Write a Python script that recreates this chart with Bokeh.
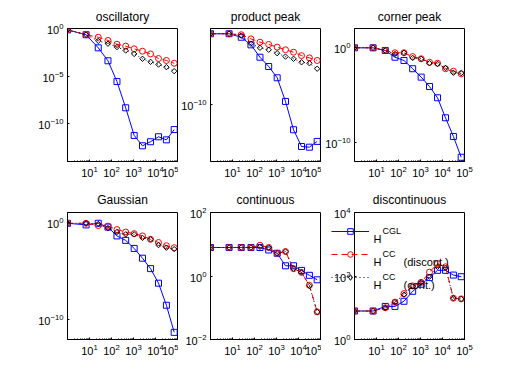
from bokeh.plotting import figure
from bokeh.layouts import column, row
from bokeh.models import Range1d, FixedTicker, Label, Legend, LegendItem
from bokeh.embed import file_html
from bokeh.resources import INLINE

# number of grid points (x values shared by all series)
n_points = [1, 7, 25, 69, 177, 441, 1073, 2561, 5953, 13697, 31265, 70785]
x_ticks = [10, 100, 1000, 10000, 100000]
x_minor = [k * 10 ** d for d in range(0, 5) for k in range(2, 10)]

titles = ["oscillatory", "product peak", "corner peak",
          "Gaussian", "continuous", "discontinuous"]

# errors: H^CGL
cgl_oscillatory = [0.72, 0.22, 9.3e-3, 4.0e-4, 2.6e-6, 4.5e-9, 5.5e-12, 4.5e-13, 1.2e-12, 4.0e-12, 1.9e-12, 2.3e-11]
cgl_product = [2.8e-3, 2.8e-3, 1.2e-3, 1.9e-4, 9.5e-6, 1.0e-6, 6.5e-8, 2.1e-10, 2.2e-13, 3.8e-15, 3.2e-15, 1.3e-14]
cgl_corner = [0.93, 0.93, 0.48, 9.5e-2, 4.3e-2, 5.8e-3, 7.6e-4, 7.8e-5, 5.1e-6, 4.0e-8, 4.3e-10, 2.8e-12]
cgl_gaussian = [0.79, 0.54, 0.79, 0.32, 4.0e-2, 1.4e-2, 2.1e-3, 2.1e-4, 1.8e-5, 5.8e-7, 3.2e-9, 5.4e-12]
cgl_continuous = [7.9, 7.9, 7.9, 7.9, 7.9, 6.6, 5.2, 2.1, 2.1, 1.5, 1.05, 0.76]
cgl_discontinuous = [7.9, 7.9, 11, 11, 16, 33, 55, 89, 151, 151, 107, 95]

# errors: H^CC (discont.)
ccd_oscillatory = [0.72, 0.22, 0.12, 5.5e-2, 2.2e-2, 1.4e-2, 7.2e-3, 4.1e-3, 2.1e-3, 6.9e-4, 4.3e-4, 2.2e-4]
ccd_product = [2.8e-3, 2.8e-3, 2.2e-3, 8.1e-4, 3.6e-4, 2.1e-4, 1.1e-4, 5.8e-5, 3.2e-5, 1.4e-5, 8.1e-6, 4.3e-6]
ccd_corner = [0.93, 0.93, 0.48, 0.28, 0.28, 0.11, 6.5e-2, 2.8e-2, 2.2e-2, 5.8e-3, 3.2e-3, 1.7e-3]
ccd_gaussian = [0.79, 0.79, 0.46, 0.40, 0.18, 0.10, 6.8e-2, 4.0e-2, 1.8e-2, 8.5e-3, 4.0e-3, 2.5e-3]
ccd_continuous = [7.9, 7.9, 7.9, 7.9, 9.3, 7.9, 5.2, 5.9, 1.7, 1.3, 0.51, 0.074]
ccd_discontinuous = [7.9, 7.9, 10, 15, 28, 49, 63, 132, 245, 195, 20, 19]

# errors: H^CC (cont.)
ccc_oscillatory = [0.72, 0.22, 5.0e-2, 2.5e-2, 1.1e-2, 4.8e-3, 2.1e-3, 6.5e-4, 3.1e-4, 1.6e-4, 8.5e-5, 3.2e-5]
ccc_product = [2.8e-3, 2.8e-3, 1.8e-3, 2.5e-4, 9.3e-5, 5.8e-5, 2.5e-5, 1.1e-5, 6.5e-6, 2.8e-6, 2.2e-6, 5.8e-7]
ccc_corner = [0.93, 0.93, 0.48, 0.21, 0.28, 8.1e-2, 6.5e-2, 2.2e-2, 1.9e-2, 6.8e-3, 2.2e-3, 2.0e-3]
ccc_gaussian = [0.79, 0.79, 0.68, 0.25, 0.10, 5.8e-2, 5.8e-2, 2.5e-2, 1.8e-2, 4.6e-3, 2.5e-3, 1.8e-3]
ccc_continuous = [7.9, 7.9, 7.9, 7.9, 8.3, 7.9, 5.2, 5.9, 1.7, 1.3, 0.49, 0.074]
ccc_discontinuous = [7.9, 7.9, 10, 15, 26, 47, 63, 95, 195, 182, 20, 19]

y_limits = [(1e-14, 1), (1e-16, 1e-2), (1e-12, 1e2), (1e-12, 10), (1e-2, 1e2), (1, 1e4)]
y_ticks = [[1e-10, 1e-5, 1], [1e-10], [1e-10, 1], [1e-10, 1], [1e-2, 1, 1e2], [1, 1e2, 1e4]]

legend_base = ["H", "H", "H"]
legend_sup = ["CGL", "CC", "CC"]
legend_tail = ["", "(discont.)", "(cont.)"]

cgl = [cgl_oscillatory, cgl_product, cgl_corner, cgl_gaussian, cgl_continuous, cgl_discontinuous]
ccd = [ccd_oscillatory, ccd_product, ccd_corner, ccd_gaussian, ccd_continuous, ccd_discontinuous]
ccc = [ccc_oscillatory, ccc_product, ccc_corner, ccc_gaussian, ccc_continuous, ccc_discontinuous]

FONT = "Liberation Sans"
BLUE, RED, BLACK = "#0000ff", "#ff0000", "black"
col_w = [178, 143, 153]
col_l = [67, 32, 33]
col_r = [1, 1, 10]
row_h = [185, 182]
row_t = [28, 27]
row_b = [24, 28]
title_standoff = [9, 11]

STYLES = [
    dict(color=BLUE, dash="solid", marker="square", size=6, angle=0.0),
    dict(color=RED, dash="6 4", marker="circle", size=6, angle=0.0),
    dict(color=BLACK, dash="1 3", marker="square", size=3.8, angle=0.785398),
]
LEGEND_STYLES = [STYLES[0], STYLES[1], dict(STYLES[2], marker="diamond", angle=0.0)]


def add_series(p, xs, ys, st):
    ln = p.line(xs, ys, line_color=st["color"], line_width=1, line_dash=st["dash"])
    mk = p.scatter(xs, ys, marker=st["marker"], size=st["size"], angle=st["angle"],
                   line_color=st["color"], fill_color=None)
    return ln, mk


figs = []
for i in range(6):
    r, c = divmod(i, 3)
    p = figure(width=col_w[c], height=row_h[r], x_axis_type="log", y_axis_type="log",
               x_range=Range1d(1, 1e5), y_range=Range1d(*y_limits[i]),
               output_backend="svg", toolbar_location=None, title=titles[i],
               min_border_left=col_l[c], min_border_right=col_r[c],
               min_border_top=row_t[r], min_border_bottom=row_b[r])
    p.background_fill_color = "white"
    p.border_fill_color = "white"
    p.outline_line_color = "black"
    p.outline_line_width = 1
    p.grid.visible = False
    p.title.align = "center"
    p.title.text_font = FONT
    p.title.text_font_size = "12px"
    p.title.text_font_style = "normal"
    p.title.text_color = "black"
    p.title.standoff = title_standoff[r]
    p.xaxis.ticker = FixedTicker(ticks=x_ticks, minor_ticks=x_minor)
    p.yaxis.ticker = FixedTicker(ticks=y_ticks[i])
    for ax in (p.xaxis, p.yaxis):
        ax.axis_line_color = "black"
        ax.major_tick_in = 2
        ax.major_tick_out = 0
        ax.minor_tick_in = 1
        ax.minor_tick_out = 0
        ax.major_tick_line_color = "black"
        ax.minor_tick_line_color = "black"
        ax.major_label_text_font = FONT
        ax.major_label_text_font_size = "11px"
        ax.major_label_text_color = "black"
        ax.major_label_standoff = 4
    p.yaxis.minor_tick_line_color = None

    add_series(p, n_points, cgl[i], STYLES[0])
    add_series(p, n_points, ccd[i], STYLES[1])
    add_series(p, n_points, ccc[i], STYLES[2])
    figs.append(p)

# legend of the last panel: a transparent overlay so that it can reach left of that panel's frame.
# Its renderers repeat the last panel's series, kept outside the overlay's (empty) ranges.
lg = figure(width=140, height=70, output_backend="svg", toolbar_location=None,
            x_axis_location=None, y_axis_location=None, title=None,
            min_border=0, x_range=Range1d(-2, -1), y_range=Range1d(-2, -1))
lg.grid.visible = False
lg.outline_line_color = None
lg.background_fill_alpha = 0
lg.border_fill_alpha = 0
items = []
for k, ys in enumerate([cgl_discontinuous, ccd_discontinuous, ccc_discontinuous]):
    ln, mk = add_series(lg, n_points, ys, LEGEND_STYLES[k])
    items.append(LegendItem(label=" ", renderers=[ln, mk]))
lg.add_layout(Legend(items=items, location="top_left", padding=0, margin=0, spacing=9,
                     glyph_width=38, glyph_height=14, label_height=14, label_width=1,
                     label_standoff=4, label_text_font_size="8px",
                     border_line_color=None, background_fill_alpha=0), "center")
for k in range(3):
    lg.add_layout(Label(x=42, y=56 - 23 * k, x_units="screen", y_units="screen",
                        text=legend_base[k], text_font=FONT, text_font_size="11px",
                        text_baseline="alphabetic", text_color="black"))
    lg.add_layout(Label(x=51, y=64 - 23 * k, x_units="screen", y_units="screen",
                        text=legend_sup[k], text_font=FONT, text_font_size="9px",
                        text_baseline="alphabetic", text_color="black"))
    if legend_tail[k]:
        lg.add_layout(Label(x=72, y=56 - 23 * k, x_units="screen", y_units="screen",
                            text=legend_tail[k], text_font=FONT, text_font_size="11px",
                            text_baseline="alphabetic", text_color="black"))
lg.styles = {"position": "absolute", "left": "331px", "top": "224px", "z-index": "10"}

layout = column(row(*figs[:3]), row(*figs[3:]))
open("out.html", "w").write(file_html([layout, lg], INLINE))
